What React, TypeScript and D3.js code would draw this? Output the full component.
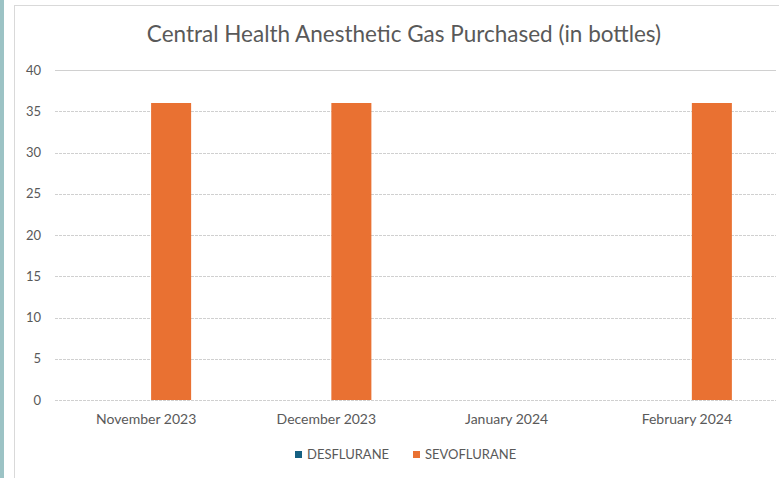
import React from "react";
import * as d3 from "d3";

const categories = ["November 2023", "December 2023", "January 2024", "February 2024"];
const seriesNames = ["DESFLURANE", "SEVOFLURANE"];
const desflurane = [0, 0, 0, 0];
const sevoflurane = [36, 36, 0, 36];
const yTicks = [0, 5, 10, 15, 20, 25, 30, 35, 40];
const colors = ["#156082", "#E97132"];

const W = 779;
const H = 478;
const plot = { left: 55, right: 776, top: 70, bottom: 400 };
const font = "Lato, 'Open Sans', sans-serif";

export default function App() {
  const x = d3.scaleBand<string>().domain(categories).range([plot.left, plot.right]).padding(0);
  const y = d3.scaleLinear().domain([0, 40]).range([plot.bottom, plot.top]);
  const values = [desflurane, sevoflurane];
  const clusterW = 92;

  return (
    <div style={{ position: "absolute", left: 0, top: 0 }}>
      <svg width={W} height={H} style={{ display: "block" }}>
        <rect x={0} y={0} width={W} height={H} fill="#ffffff" />
        <rect x={0} y={0} width={4} height={H} fill="#9CC3C5" />
        <line x1={14.5} y1={5} x2={14.5} y2={H} stroke="#d9d9d9" strokeWidth={1} />
        <line x1={14.5} y1={5.5} x2={W} y2={5.5} stroke="#d9d9d9" strokeWidth={1} />
        <text x={404} y={42} textAnchor="middle" fontFamily={font} fontSize={22.5} fill="#595959">
          Central Health Anesthetic Gas Purchased (in bottles)
        </text>
        {yTicks.map((t) => (
          <g key={t}>
            <line
              x1={plot.left}
              x2={plot.right}
              y1={Math.round(y(t)) + 0.5}
              y2={Math.round(y(t)) + 0.5}
              stroke="#d0d0d0"
              strokeWidth={1}
              strokeDasharray={t === 40 ? undefined : "3,1"}
            />
            <text x={41} y={y(t) + 4.5} textAnchor="end" fontFamily={font} fontSize={13} fill="#595959">
              {t}
            </text>
          </g>
        ))}
        {categories.map((c, i) => {
          const cx = (x(c) as number) + x.bandwidth() / 2;
          const inner = d3
            .scaleBand<string>()
            .domain(seriesNames)
            .range([cx - clusterW / 2, cx + clusterW / 2])
            .paddingInner(0.23);
          return (
            <g key={c}>
              {seriesNames.map((s, si) => {
                const v = values[si][i];
                if (v <= 0) return null;
                return (
                  <rect
                    key={s}
                    x={inner(s) as number}
                    y={y(v)}
                    width={inner.bandwidth()}
                    height={y(0) - y(v)}
                    fill={colors[si]}
                  />
                );
              })}
              <text x={cx + 1} y={424} textAnchor="middle" fontFamily={font} fontSize={14} fill="#595959">
                {c}
              </text>
            </g>
          );
        })}
        <g>
          <rect x={295} y={451} width={7} height={7} fill={colors[0]} />
          <text x={307} y={459} fontFamily={font} fontSize={13} fill="#595959">
            {seriesNames[0]}
          </text>
          <rect x={413} y={451} width={7} height={7} fill={colors[1]} />
          <text x={425} y={459} fontFamily={font} fontSize={13} fill="#595959">
            {seriesNames[1]}
          </text>
        </g>
      </svg>
    </div>
  );
}
